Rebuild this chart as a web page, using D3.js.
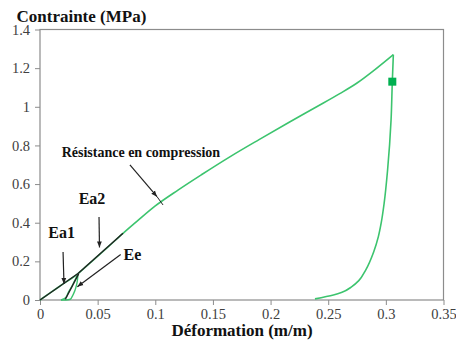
<!DOCTYPE html>
<html>
<head>
<meta charset="utf-8">
<script src="https://cdn.jsdelivr.net/npm/d3@7"></script>
<style>
  body { margin: 0; background: #fff; }
  text { font-family: "Liberation Serif", "Times New Roman", "DejaVu Serif", serif; }
</style>
</head>
<body>
<div id="chart"></div>
<script>

// loading curve (strain, stress)
var loadStrain = [0, 0.01, 0.02, 0.033, 0.045, 0.06, 0.072, 0.085, 0.1, 0.12, 0.14, 0.165, 0.19, 0.215, 0.24, 0.26, 0.275, 0.29, 0.3065];
var loadStress = [0, 0.042, 0.083, 0.137, 0.2, 0.28, 0.345, 0.412, 0.487, 0.57, 0.648, 0.742, 0.83, 0.916, 1.0, 1.068, 1.123, 1.19, 1.27];

// unloading after peak
var unloadStrain = [0.3065, 0.3056, 0.3045, 0.3015, 0.2985, 0.296, 0.2935, 0.2895, 0.2825, 0.2765, 0.2705, 0.262, 0.2545, 0.2385];
var unloadStress = [1.27, 1.13, 0.93, 0.673, 0.5, 0.4, 0.328, 0.25, 0.155, 0.1, 0.069, 0.04, 0.026, 0.006];

// small unload / reload loop
var loopDownStrain = [0.033, 0.0305, 0.0278, 0.0245, 0.0219, 0.0182];
var loopDownStress = [0.137, 0.105, 0.072, 0.038, 0.01, 0];
var loopUpStrain = [0.0182, 0.0225, 0.0263, 0.0286, 0.0312, 0.0325, 0.033];
var loopUpStress = [0, 0, 0.004, 0.026, 0.067, 0.105, 0.137];

// marker point
var markStrain = [0.3056];
var markStress = [1.13];

// modulus lines Ea1, Ea2, Ee
var modLines = [
  [[0, 0], [0.033, 0.137]],
  [[0.033, 0.137], [0.072, 0.345]],
  [[0.022, 0.004], [0.0335, 0.135]]
];

// annotations: label, label pos, arrow from, arrow to
var labels = ["Ea1", "Ea2", "Ee", "Résistance en compression"];
var labelPos = [[0.0188, 0.319], [0.0451, 0.495], [0.0725, 0.207], [0.0188, 0.742]];
var arrowFrom = [[0.020, 0.248], [0.0512, 0.430], [0.070, 0.236], [0.078, 0.699]];
var arrowTo = [[0.0208, 0.083], [0.0516, 0.272], [0.0324, 0.069], [0.1015, 0.535]];

var xTicks = [0, 0.05, 0.1, 0.15, 0.2, 0.25, 0.3, 0.35];
var xTickLabels = ["0", "0.05", "0.1", "0.15", "0.2", "0.25", "0.3", "0.35"];
var yTicks = [0, 0.2, 0.4, 0.6, 0.8, 1, 1.2, 1.4];
var yTickLabels = ["0", "0.2", "0.4", "0.6", "0.8", "1", "1.2", "1.4"];

var W = 456, H = 340;
var margin = {top: 29.5, right: 12.5, bottom: 40, left: 40},
    width = W - margin.left - margin.right,
    height = H - margin.top - margin.bottom;

var svg = d3.select("#chart")
  .append("svg")
    .attr("width", W)
    .attr("height", H)
  .append("g")
    .attr("transform", "translate(" + margin.left + "," + margin.top + ")");

var x = d3.scaleLinear().domain([0, 0.35]).range([0, width]);
var y = d3.scaleLinear().domain([0, 1.4]).range([height, 0]);

svg.append("defs").append("marker")
    .attr("id", "arr")
    .attr("viewBox", "0 0 10 10")
    .attr("refX", 10).attr("refY", 5)
    .attr("markerWidth", 6).attr("markerHeight", 6)
    .attr("markerUnits", "userSpaceOnUse")
    .attr("orient", "auto")
  .append("path")
    .attr("d", "M0,1 L10,5 L0,9 Z")
    .style("fill", "#222");

// axes
var xAxis = svg.append("g")
    .attr("transform", "translate(0," + height + ")")
    .call(d3.axisBottom(x).tickValues(xTicks)
      .tickFormat(function(d, i) { return xTickLabels[i]; })
      .tickSize(5).tickPadding(4));
var yAxis = svg.append("g")
    .call(d3.axisLeft(y).tickValues(yTicks)
      .tickFormat(function(d, i) { return yTickLabels[i]; })
      .tickSize(5).tickPadding(5));

[xAxis, yAxis].forEach(function(a) {
  a.select(".domain").remove();
  a.selectAll("line").style("stroke", "#8c8c8c");
  a.selectAll("text")
    .style("font-size", "14.5px")
    .style("fill", "#404040")
    .style("font-family", "'Liberation Serif', 'Times New Roman', serif");
});

svg.append("rect")
    .attr("x", 0).attr("y", 0)
    .attr("width", width).attr("height", height)
    .style("fill", "none")
    .style("stroke", "#8c8c8c")
    .style("stroke-width", 1.2);

var lineLoad = d3.line()
    .x(function(d) { return x(d[0]); })
    .y(function(d) { return y(d[1]); })
    .curve(d3.curveMonotoneX);

var lineUnload = d3.line()
    .x(function(d) { return x(d[0]); })
    .y(function(d) { return y(d[1]); })
    .curve(d3.curveMonotoneY);

var green = "#3cc46e";

svg.append("path")
    .datum(d3.zip(loadStrain, loadStress))
    .attr("d", lineLoad)
    .style("fill", "none").style("stroke", green).style("stroke-width", 1.6);

svg.append("path")
    .datum(d3.zip(unloadStrain, unloadStress))
    .attr("d", lineUnload)
    .style("fill", "none").style("stroke", green).style("stroke-width", 1.6);

svg.append("path")
    .datum(d3.zip(loopDownStrain, loopDownStress))
    .attr("d", lineUnload)
    .style("fill", "none").style("stroke", green).style("stroke-width", 1.4);

svg.append("path")
    .datum(d3.zip(loopUpStrain, loopUpStress))
    .attr("d", lineLoad)
    .style("fill", "none").style("stroke", green).style("stroke-width", 1.4);

svg.selectAll(".mod")
  .data(modLines)
  .enter()
  .append("path")
    .attr("d", d3.line().x(function(d) { return x(d[0]); }).y(function(d) { return y(d[1]); }))
    .style("fill", "none").style("stroke", "#222").style("stroke-width", 1.4);

svg.selectAll(".mark")
  .data(d3.zip(markStrain, markStress))
  .enter()
  .append("rect")
    .attr("x", function(d) { return x(d[0]) - 4; })
    .attr("y", function(d) { return y(d[1]) - 4; })
    .attr("width", 8).attr("height", 8)
    .style("fill", "#00b050");

// arrows
svg.selectAll(".arrow")
  .data(d3.range(arrowFrom.length))
  .enter()
  .append("line")
    .attr("x1", function(i) { return x(arrowFrom[i][0]); })
    .attr("y1", function(i) { return y(arrowFrom[i][1]); })
    .attr("x2", function(i) { return x(arrowTo[i][0]); })
    .attr("y2", function(i) { return y(arrowTo[i][1]); })
    .attr("marker-end", "url(#arr)")
    .style("stroke", "#222").style("stroke-width", 1.2);

// short tick crossing the curve past the resistance arrow
svg.append("line")
    .attr("x1", x(0.1015)).attr("y1", y(0.535))
    .attr("x2", x(0.1067)).attr("y2", y(0.492))
    .style("stroke", "#222").style("stroke-width", 1);

svg.selectAll(".lab")
  .data(labels)
  .enter()
  .append("text")
    .attr("x", function(d, i) { return x(labelPos[i][0]); })
    .attr("y", function(d, i) { return y(labelPos[i][1]); })
    .attr("text-anchor", function(d, i) { return i === 0 || i === 1 ? "middle" : "start"; })
    .style("font-weight", "bold")
    .style("font-size", function(d, i) { return i === 3 ? "14px" : "16px"; })
    .style("fill", "#111")
    .text(function(d) { return d; });

// axis titles
svg.append("text")
    .attr("x", 16.5 - margin.left)
    .attr("y", 21.5 - margin.top)
    .style("font-weight", "bold")
    .style("font-size", "17px")
    .style("fill", "#111")
    .text("Contrainte (MPa)");

svg.append("text")
    .attr("x", 242 - margin.left)
    .attr("y", 336 - margin.top)
    .attr("text-anchor", "middle")
    .style("font-weight", "bold")
    .style("font-size", "17px")
    .style("fill", "#111")
    .text("Déformation (m/m)");

</script>
</body>
</html>
